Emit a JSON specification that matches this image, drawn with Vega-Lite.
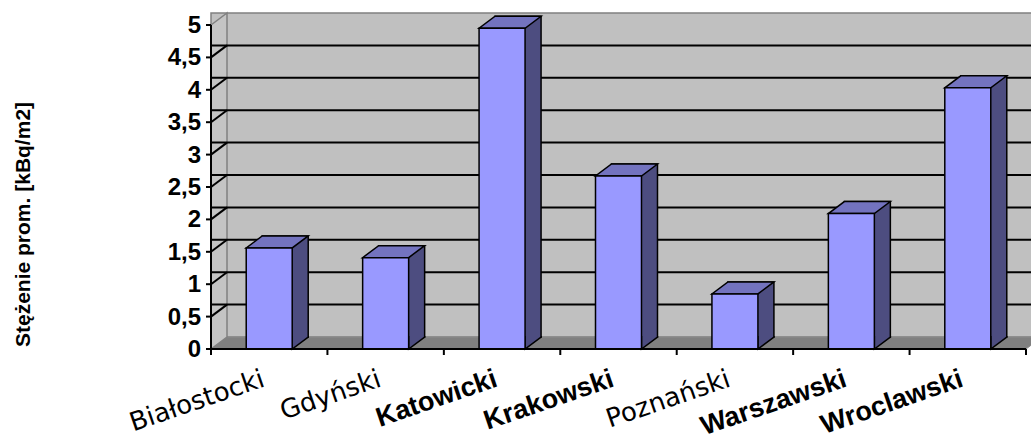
{
  "$schema": "https://vega.github.io/schema/vega-lite/v6.json",
  "width": 815,
  "height": 324,
  "autosize": "none",
  "padding": {"left": 211, "top": 25, "right": 5, "bottom": 99},
  "background": "white",
  "config": {
    "view": {"stroke": null},
    "locale": {"number": {"decimal": ",", "thousands": " ", "grouping": [3], "currency": ["", " zł"]}}
  },
  "datasets": {
    "pomiary": [
      {"oddzial": "Białostocki", "stezenie": 1.56},
      {"oddzial": "Gdyński", "stezenie": 1.41},
      {"oddzial": "Katowicki", "stezenie": 4.95},
      {"oddzial": "Krakowski", "stezenie": 2.67},
      {"oddzial": "Poznański", "stezenie": 0.85},
      {"oddzial": "Warszawski", "stezenie": 2.09},
      {"oddzial": "Wroclawski", "stezenie": 4.03}
    ],
    "poziomy": [
      {"poziom": 0}, {"poziom": 0.5}, {"poziom": 1}, {"poziom": 1.5}, {"poziom": 2}, {"poziom": 2.5},
      {"poziom": 3}, {"poziom": 3.5}, {"poziom": 4}, {"poziom": 4.5}, {"poziom": 5}
    ],
    "tytul": [{"tekst": "Stężenie prom. [kBq/m2]"}],
    "tlo": [{}]
  },
  "layer": [
    {
      "data": {"name": "tlo"},
      "mark": {"type": "rect", "fill": "#C0C0C0", "stroke": "#808080", "strokeWidth": 1.5,
               "xOffset": 16, "x2Offset": 16, "yOffset": -12, "y2Offset": -12},
      "encoding": {
        "y": {"datum": 0, "type": "quantitative", "axis": null,
              "scale": {"domain": [0, 5], "nice": false, "zero": true}},
        "y2": {"datum": 5}
      }
    },
    {
      "data": {"name": "tlo"},
      "mark": {"type": "point", "shape": "M0 0 L815 0 L831 -12 L16 -12 Z", "size": 4, "filled": true,
               "fill": "#808080", "stroke": "#8C8C8C", "strokeWidth": 1, "opacity": 1},
      "encoding": {
        "x": {"datum": "Białostocki", "type": "nominal", "bandPosition": 0, "axis": null,
              "scale": {"domain": ["Białostocki", "Gdyński", "Katowicki", "Krakowski", "Poznański", "Warszawski", "Wroclawski"],
                        "paddingInner": 0, "paddingOuter": 0}},
        "y": {"datum": 0, "type": "quantitative", "axis": null}
      }
    },
    {
      "data": {"name": "tlo"},
      "mark": {"type": "point", "shape": "M0 0 L0 -324 L16 -336 L16 -12 Z", "size": 4, "filled": true,
               "fill": "#C4C4C4", "stroke": "#808080", "strokeWidth": 1.5, "opacity": 1},
      "encoding": {
        "x": {"datum": "Białostocki", "type": "nominal", "bandPosition": 0, "axis": null},
        "y": {"datum": 0, "type": "quantitative", "axis": null}
      }
    },
    {
      "data": {"name": "poziomy"},
      "transform": [{"filter": "datum.poziom > 0 && datum.poziom < 5"}],
      "mark": {"type": "rule", "stroke": "black", "strokeWidth": 2,
               "xOffset": 16, "x2Offset": 16, "yOffset": -12, "y2Offset": -12},
      "encoding": {
        "y": {"field": "poziom", "type": "quantitative", "axis": null}
      }
    },
    {
      "data": {"name": "poziomy"},
      "transform": [{"filter": "datum.poziom > 0 && datum.poziom < 5"}],
      "mark": {"type": "point", "shape": "M0 0 L16 -12", "size": 4, "filled": false,
               "stroke": "black", "strokeWidth": 2, "opacity": 1},
      "encoding": {
        "x": {"datum": "Białostocki", "type": "nominal", "bandPosition": 0, "axis": null},
        "y": {"field": "poziom", "type": "quantitative", "axis": null}
      }
    },
    {
      "data": {"name": "poziomy"},
      "mark": {"type": "point", "shape": "M-5 0 L0 0", "size": 4, "filled": false,
               "stroke": "black", "strokeWidth": 2, "opacity": 1},
      "encoding": {
        "x": {"datum": "Białostocki", "type": "nominal", "bandPosition": 0, "axis": null},
        "y": {"field": "poziom", "type": "quantitative", "axis": null}
      }
    },
    {
      "data": {"name": "poziomy"},
      "mark": {"type": "text", "align": "right", "baseline": "middle", "xOffset": -10, "yOffset": 1,
               "font": "Liberation Sans", "fontSize": 24, "fontWeight": "bold", "color": "black"},
      "encoding": {
        "x": {"datum": "Białostocki", "type": "nominal", "bandPosition": 0, "axis": null},
        "y": {"field": "poziom", "type": "quantitative", "axis": null},
        "text": {"field": "poziom", "type": "quantitative", "format": "~g"}
      }
    },
    {
      "data": {"name": "tytul"},
      "mark": {"type": "text", "align": "left", "baseline": "bottom", "angle": 270, "xOffset": -177, "yOffset": -2,
               "font": "Liberation Sans", "fontSize": 21, "fontWeight": "bold", "color": "black"},
      "encoding": {
        "x": {"datum": "Białostocki", "type": "nominal", "bandPosition": 0, "axis": null},
        "y": {"datum": 0, "type": "quantitative", "axis": null},
        "text": {"field": "tekst", "type": "nominal"}
      }
    },
    {
      "data": {"name": "tlo"},
      "mark": {"type": "rule", "stroke": "black", "strokeWidth": 2},
      "encoding": {
        "x": {"datum": "Białostocki", "type": "nominal", "bandPosition": 0, "axis": null},
        "y": {"datum": 0, "type": "quantitative", "axis": null},
        "y2": {"datum": 5}
      }
    },
    {
      "data": {"name": "pomiary"},
      "mark": {"type": "bar", "width": {"band": 0.395}, "xOffset": 16, "yOffset": -12, "y2Offset": -12,
               "fill": "#4D4D80", "stroke": "black", "strokeWidth": 1.5},
      "encoding": {
        "x": {"field": "oddzial", "type": "nominal", "sort": null, "axis": null},
        "y": {"field": "stezenie", "type": "quantitative", "axis": null}
      }
    },
    {
      "data": {"name": "pomiary"},
      "mark": {"type": "point", "shape": "M23 -13 L23 0 L39 -12 L39 -13", "size": 4, "filled": true,
               "fill": "#4D4D80", "stroke": "black", "strokeWidth": 1.5, "opacity": 1},
      "encoding": {
        "x": {"field": "oddzial", "type": "nominal", "sort": null, "axis": null},
        "y": {"datum": 0, "type": "quantitative", "axis": null}
      }
    },
    {
      "data": {"name": "pomiary"},
      "mark": {"type": "point", "shape": "M-23 0 L23 0 L39 -12 L-7 -12 Z", "size": 4, "filled": true,
               "fill": "#7373BF", "stroke": "black", "strokeWidth": 1.5, "opacity": 1},
      "encoding": {
        "x": {"field": "oddzial", "type": "nominal", "sort": null, "axis": null},
        "y": {"field": "stezenie", "type": "quantitative", "axis": null}
      }
    },
    {
      "data": {"name": "pomiary"},
      "mark": {"type": "bar", "width": {"band": 0.395}, "fill": "#9999FF", "stroke": "black", "strokeWidth": 1.5},
      "encoding": {
        "x": {"field": "oddzial", "type": "nominal", "sort": null, "axis": null},
        "y": {"field": "stezenie", "type": "quantitative", "axis": null}
      }
    },
    {
      "data": {"name": "tlo"},
      "mark": {"type": "rule", "stroke": "black", "strokeWidth": 2},
      "encoding": {
        "y": {"datum": 0, "type": "quantitative", "axis": null}
      }
    },
    {
      "data": {"name": "pomiary"},
      "mark": {"type": "point", "shape": "M0 0 L0 6", "size": 4, "filled": false,
               "stroke": "black", "strokeWidth": 2, "opacity": 1},
      "encoding": {
        "x": {"field": "oddzial", "type": "nominal", "sort": null, "bandPosition": 0, "axis": null},
        "y": {"datum": 0, "type": "quantitative", "axis": null}
      }
    },
    {
      "data": {"name": "tlo"},
      "mark": {"type": "point", "shape": "M0 0 L0 6", "size": 4, "filled": false,
               "stroke": "black", "strokeWidth": 2, "opacity": 1},
      "encoding": {
        "x": {"datum": "Wroclawski", "type": "nominal", "bandPosition": 1, "axis": null},
        "y": {"datum": 0, "type": "quantitative", "axis": null}
      }
    },
    {
      "data": {"name": "pomiary"},
      "transform": [{"filter": {"field": "oddzial", "oneOf": ["Białostocki", "Gdyński", "Poznański"]}}],
      "mark": {"type": "text", "align": "right", "baseline": "top", "angle": 341, "xOffset": -10, "yOffset": 17,
               "font": "DejaVu Sans", "fontSize": 26, "fontWeight": "normal", "color": "black"},
      "encoding": {
        "x": {"field": "oddzial", "type": "nominal", "sort": null, "axis": null},
        "y": {"datum": 0, "type": "quantitative", "axis": null},
        "text": {"field": "oddzial", "type": "nominal"}
      }
    },
    {
      "data": {"name": "pomiary"},
      "transform": [{"filter": {"not": {"field": "oddzial", "oneOf": ["Białostocki", "Gdyński", "Poznański"]}}}],
      "mark": {"type": "text", "align": "right", "baseline": "top", "angle": 341, "xOffset": -10, "yOffset": 17,
               "font": "Liberation Sans", "fontSize": 27, "fontWeight": "bold", "color": "black"},
      "encoding": {
        "x": {"field": "oddzial", "type": "nominal", "sort": null, "axis": null},
        "y": {"datum": 0, "type": "quantitative", "axis": null},
        "text": {"field": "oddzial", "type": "nominal"}
      }
    }
  ]
}
